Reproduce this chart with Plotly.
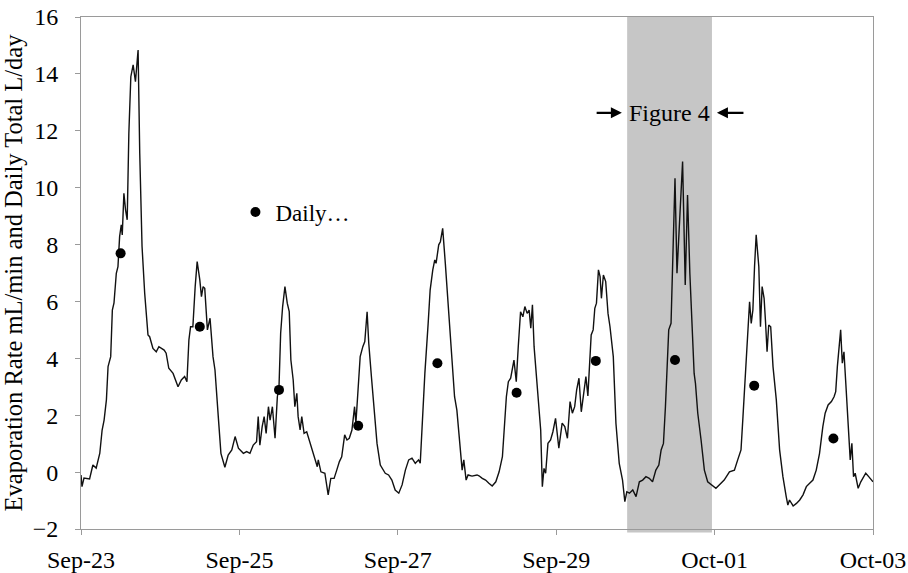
import pandas as pd
import plotly.graph_objects as go

# ---- data ----
# evaporation rate (mL/min): hours since Sep-23 00:00 and values
rate_hours = [
    0, 0.3, 0.9, 2.6, 3.6, 4.6, 5.7, 6.4, 7.0, 7.7, 8.2, 9.0, 9.5, 10.0, 10.7, 11.2, 11.7, 12.2, 12.5,
    13.0, 13.5, 14.0, 14.5, 15.1, 15.8, 16.5, 17.3, 17.8, 18.5, 19.3, 20.3, 20.8, 21.8, 22.8, 23.6,
    25.2, 25.8, 26.6, 27.9, 28.4, 29.4, 30.4, 31.4, 32.1, 32.7, 33.2, 33.9, 34.6, 35.2, 36.0, 36.5,
    37.0, 37.5, 38.3, 39.1, 40.0,
    40.6, 41.6, 42.4, 43.6, 44.6, 45.7, 46.7, 47.7, 49.2, 50.2, 51.2, 52.2, 53.2, 53.7, 54.2, 54.9,
    55.5, 56.1, 56.8, 57.3, 58.0, 58.8, 59.5, 60.0, 60.5, 61.1, 61.8, 62.5, 63.1, 63.6, 64.3, 64.8,
    65.4, 65.8, 66.4, 66.9, 67.6, 68.4, 69.1, 69.9, 70.9, 71.6, 71.9, 72.7, 73.9, 74.9, 75.7, 76.7,
    77.5, 78.3, 79.0,
    79.9, 80.6, 81.3, 82.1, 82.9, 83.3, 83.9, 84.6, 85.4, 86.0, 86.7, 87.2, 88.0, 88.7, 89.7, 90.7,
    92.2, 93.2, 94.2, 95.2, 96.3, 97.3, 98.3, 99.3, 100.3, 101.3, 102.3, 102.8, 103.3, 104.2, 105.2,
    105.8, 106.6, 107.2, 107.6, 108.4, 108.9, 109.6, 110.4, 111.2, 111.9, 112.6, 113.2, 113.9, 114.6,
    115.5, 116.0, 116.7, 117.3, 118.5, 120.0,
    120.6, 121.6, 122.6, 123.6, 124.6, 125.7, 126.7, 127.7, 128.4, 128.9, 129.5, 130.2, 131.2, 131.9,
    132.5, 133.2, 133.9, 134.5, 135.2, 135.8, 136.3, 136.8, 137.3, 137.8, 138.6, 139.3, 139.8, 140.3,
    140.8, 141.5, 142.3, 143.0, 143.8, 144.8, 145.8, 146.6, 147.4, 148.2, 148.9, 149.6, 150.2, 150.9,
    151.6, 152.4, 153.0, 153.6, 154.2, 154.6, 155.2, 155.7, 156.2, 156.8, 157.3, 157.7, 158.3, 159.0,
    159.7, 160.3,
    161.3, 162.1, 163.1, 164.1, 164.8, 165.4, 166.2, 167.2, 168.2, 169.2, 170.2, 171.2, 172.2, 173.2,
    174.2, 175.1, 175.8, 176.5, 177.1, 177.6, 178.1, 178.8, 179.3, 180.0, 180.6, 181.1, 182.3, 183.1,
    183.8, 184.5, 185.4, 185.8, 186.2, 186.9, 187.9, 188.9, 189.9, 191.2, 192.4, 193.4, 194.9, 196.5,
    198.0, 199.0, 200.0,
    200.6, 201.3, 202.1, 202.6, 203.1, 203.6, 204.1, 204.6, 205.4, 205.9, 206.4, 207.0, 207.4, 207.9,
    208.4, 209.0, 209.7, 210.7, 211.7, 212.7, 213.7, 214.2, 214.7, 215.8, 216.8, 217.8, 218.8, 219.8,
    220.8, 221.8, 222.8, 223.8, 224.8, 225.5, 226.4, 227.4, 228.2, 228.7, 229.2, 229.7, 230.2, 230.7,
    231.2, 231.7, 232.4, 233.1, 233.6, 234.1, 234.6, 235.5, 236.3, 237.0, 237.8, 238.7, 239.5, 240.0,
]
rate_values = [
    -0.10, -0.51, -0.21, -0.24, 0.25, 0.14, 0.67, 1.48, 1.83, 2.54, 3.71, 4.06, 5.70, 5.95, 6.99, 7.22,
    8.28, 8.69, 8.34, 9.80, 9.22, 8.87, 11.91, 13.90, 14.32, 13.73, 14.84, 11.21, 7.93, 6.29, 4.82,
    4.76, 4.35, 4.23, 4.41, 4.29, 4.18, 3.65, 3.47, 3.30, 3.00, 3.24, 3.36, 3.18, 4.65, 5.11, 5.11,
    6.52, 7.40, 6.76, 6.17, 6.52, 6.46, 5.00, 5.41, 4.06,
    3.59, 1.95, 0.66, 0.17, 0.60, 0.78, 1.25, 0.84, 0.66, 0.72, 0.66, 0.95, 1.07, 1.95, 0.95, 1.60,
    1.95, 1.36, 2.30, 1.83, 2.30, 1.19, 2.65, 3.00, 4.88, 5.82, 6.52, 5.94, 5.64, 3.94, 3.24, 2.30,
    2.77, 1.95, 1.48, 1.95, 1.36, 1.42, 1.13, 0.89, 0.43, 0.19, 0.43, 0.01, -0.04, -0.80, -0.22, -0.22,
    0.07, 0.37, 0.54,
    1.31, 1.13, 1.19, 1.48, 2.30, 1.72, 2.65, 4.06, 4.41, 4.59, 5.64, 4.53, 3.36, 2.42, 1.01, 0.25,
    -0.04, -0.10, -0.28, -0.63, -0.74, -0.45, 0.07, 0.43, 0.49, 0.31, 0.43, 0.31, 1.48, 3.47, 5.23,
    6.40, 7.11, 7.46, 7.34, 7.99, 8.10, 8.57, 7.34, 6.05, 5.00, 3.94, 2.65, 2.18, 1.13,
    0.07, 0.43, -0.28, -0.10, -0.14, -0.10,
    -0.13, -0.22, -0.28, -0.39, -0.49, -0.34, 0.01, 0.54, 1.72, 2.65, 3.18, 3.30, 3.94, 3.18,
    4.41, 5.64, 5.46, 5.82, 5.58, 5.70, 5.06, 5.88, 4.41, 3.59, 2.54, 1.48, -0.51, 0.13,
    -0.04, 1.01, 1.13, 1.42, 1.89, 0.84, 1.72, 1.60, 1.19, 2.48, 2.07, 2.30, 2.89, 3.30,
    2.12, 2.77, 3.36, 2.68, 3.83, 4.82, 5.00, 5.76, 5.94, 7.11, 6.87, 6.11, 6.93, 6.70,
    5.58, 5.11,
    4.06, 1.72, 0.31, -0.28, -1.04, -0.69, -0.74, -0.63, -0.86, -0.34, -0.28, -0.16, -0.22, -0.34,
    0.07, 0.25, 0.78, 1.01, 2.30, 3.71, 5.00, 5.23, 7.22, 10.33, 6.99, 8.16, 10.92, 6.58,
    9.74, 6.99, 4.65, 3.47, 3.12, 2.07, 1.13, 0.07, -0.34, -0.45, -0.57, -0.45, -0.28, 0.01,
    0.07, 0.43, 0.78,
    1.95, 3.24, 4.65, 5.99, 5.23, 5.70, 7.22, 8.34, 7.22, 5.11, 6.52, 6.11, 5.35, 4.23,
    5.17, 5.11, 3.71, 2.54, 0.78, -0.16, -0.86, -1.16, -0.98, -1.19, -1.10, -0.98, -0.80, -0.51,
    -0.39, -0.28, 0.07, 0.66, 1.60, 2.07, 2.36, 2.48, 2.65, 2.83, 3.71, 4.41, 5.00, 3.83,
    4.23, 3.24, 1.60, 0.43, 1.01, -0.16, -0.04, -0.57, -0.34, -0.22, -0.04, -0.16, -0.28, -0.34,
]

# daily totals (L/day), plotted at noon of each day
daily_dates = ["Sep-23", "Sep-24", "Sep-25", "Sep-26", "Sep-27",
               "Sep-28", "Sep-29", "Sep-30", "Oct-01", "Oct-02"]
daily_values = [7.69, 5.11, 2.89, 1.63, 3.83, 2.79, 3.91, 3.94, 3.04, 1.18]

x_tick_labels = ["Sep-23", "Sep-25", "Sep-27", "Sep-29", "Oct-01", "Oct-03"]
y_ticks = [-2, 0, 2, 4, 6, 8, 10, 12, 14, 16]

# Figure 4 window (hours since Sep-23 00:00)
fig4_window = [165.5, 191.2]

start = pd.Timestamp("2012-09-23 00:00")
rate_t = [start + pd.Timedelta(hours=h) for h in rate_hours]
daily_t = [pd.to_datetime(d + "-2012", format="%b-%d-%Y") + pd.Timedelta(hours=12) for d in daily_dates]
tick_vals = [pd.to_datetime(d + "-2012", format="%b-%d-%Y") for d in x_tick_labels]

FONT = "Liberation Serif, Times New Roman, serif"

fig = go.Figure()
fig.add_trace(go.Scatter(
    x=rate_t, y=rate_values, mode="lines", name="Rate",
    line=dict(color="#111111", width=1.4), showlegend=False,
))
fig.add_trace(go.Scatter(
    x=daily_t, y=daily_values, mode="markers", name="Daily…",
    marker=dict(color="#000000", size=10, symbol="circle"), showlegend=True,
))

w0 = start + pd.Timedelta(hours=fig4_window[0])
w1 = start + pd.Timedelta(hours=fig4_window[1])
fig.add_shape(type="rect", xref="x", yref="paper", x0=w0, x1=w1, y0=-0.007, y1=1.0,
              fillcolor="#c6c6c6", line=dict(width=0), layer="below")

ann_y = 12.63
fig.add_annotation(x=start + pd.Timedelta(hours=178.3), y=ann_y, text="Figure 4",
                   showarrow=False, font=dict(family=FONT, size=24, color="#000"))
fig.add_annotation(x=start + pd.Timedelta(hours=163.9), y=ann_y,
                   ax=start + pd.Timedelta(hours=155.8), ay=ann_y, axref="x", ayref="y",
                   text="", showarrow=True, arrowhead=2, arrowsize=1, arrowwidth=2.2, arrowcolor="#000")
fig.add_annotation(x=start + pd.Timedelta(hours=192.7), y=ann_y,
                   ax=start + pd.Timedelta(hours=201.2), ay=ann_y, axref="x", ayref="y",
                   text="", showarrow=True, arrowhead=2, arrowsize=1, arrowwidth=2.2, arrowcolor="#000")

fig.update_layout(
    width=908, height=573,
    margin=dict(l=81, r=35, t=17, b=44, autoexpand=False),
    paper_bgcolor="white", plot_bgcolor="white",
    font=dict(family=FONT, size=24, color="#000"),
    legend=dict(x=0.195, y=0.619, xanchor="left", yanchor="middle",
                bgcolor="rgba(0,0,0,0)", font=dict(family=FONT, size=23)),
    xaxis=dict(
        type="date", range=[start, start + pd.Timedelta(days=10)],
        tickvals=tick_vals, ticktext=x_tick_labels, automargin=False,
        showgrid=False, zeroline=False, showline=True, linecolor="#9a9a9a", linewidth=1,
        mirror=True, ticks="outside", ticklen=5, tickcolor="#9a9a9a",
        ticklabelstandoff=4, ticklabeloverflow="allow",
        tickfont=dict(family=FONT, size=24),
    ),
    yaxis=dict(
        range=[-2, 16], tickvals=y_ticks, automargin=False,
        showgrid=False, zeroline=False, showline=True, linecolor="#9a9a9a", linewidth=1,
        mirror=True, ticks="outside", ticklen=5, tickcolor="#9a9a9a",
        ticklabelstandoff=12, ticklabeloverflow="allow",
        tickfont=dict(family=FONT, size=24),
        title=dict(text="Evaporation Rate mL/min and Daily Total L/day",
                   font=dict(family=FONT, size=24.5), standoff=4),
    ),
)

# remove the default 8px page margin so the 908x573 figure fills the window exactly
fig.write_html("out.html", config={"displayModeBar": False},
               post_script="document.body.style.margin='0';document.body.style.overflow='hidden';")
